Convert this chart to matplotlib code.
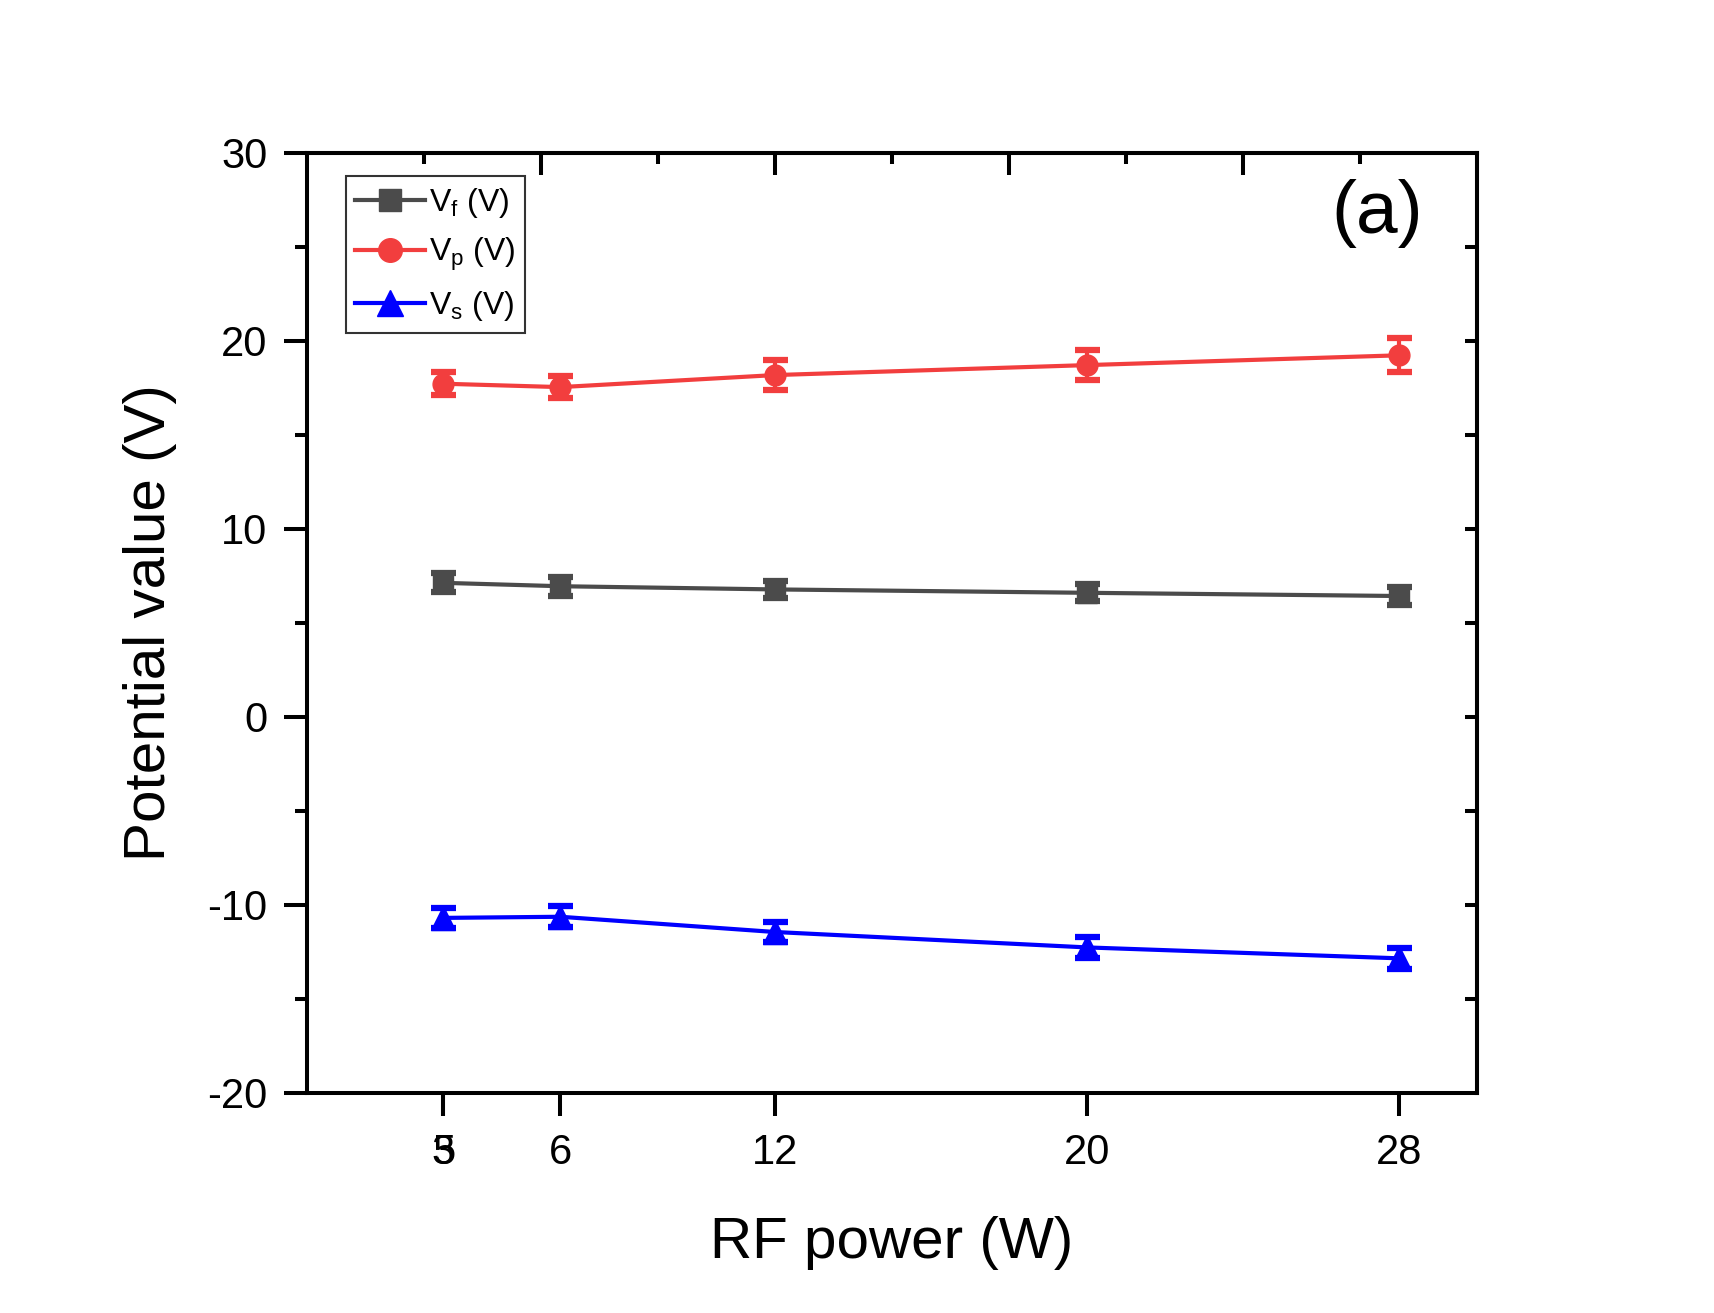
import matplotlib.pyplot as plt
from matplotlib.lines import Line2D

# %% Style
FONT = "Liberation Sans"
plt.rcParams.update(
    {
        "font.family": FONT,
        "mathtext.fontset": "custom",
        "mathtext.rm": FONT,
        "mathtext.it": FONT,
        "axes.linewidth": 2.9,
        "axes.unicode_minus": False,
    }
)

# %% Data
x_pos = [3.5, 6.5, 12, 20, 28]
x_labels = ["5", "6", "12", "20", "28"]
extra_label = "3"  # printed on top of the first tick label

vf = [7.13, 6.95, 6.78, 6.60, 6.43]
vf_err = [0.50, 0.50, 0.45, 0.45, 0.50]
vp = [17.72, 17.54, 18.18, 18.71, 19.23]
vp_err = [0.62, 0.58, 0.80, 0.80, 0.90]
vs = [-10.69, -10.63, -11.44, -12.26, -12.84]
vs_err = [0.55, 0.55, 0.55, 0.55, 0.55]

series = [
    (vf, vf_err, "V$_{\\mathrm{f}}$ (V)", "#4b4b4b", "s", 14),
    (vp, vp_err, "V$_{\\mathrm{p}}$ (V)", "#f23e3e", "o", 15),
    (vs, vs_err, "V$_{\\mathrm{s}}$ (V)", "#0000ff", "^", 17),
]

TICK_FS = 30
MAJ = 16.5
PAD = 12

# %% Plot
fig = plt.figure(figsize=(17.15, 13.13), dpi=100)
ax = fig.add_axes([0.179, 0.1676, 0.682, 0.716])

handles = []
for y, err, label, color, marker, ms in series:
    ax.errorbar(
        x_pos, y, yerr=err, color=color, marker=marker, markersize=ms,
        linewidth=3.0, elinewidth=3.0, capsize=9, capthick=4.5,
    )
    handles.append(Line2D([], [], color=color, marker=marker,
                          markersize=ms + 2, linewidth=3.0, label=label))

ax.set_xlim(0, 30)
ax.set_ylim(-20, 30)
ax.set_xticks(x_pos)
ax.set_xticklabels(x_labels)
ax.set_yticks(range(-20, 31, 10))
ax.set_yticks(range(-15, 30, 10), minor=True)
ax.tick_params(axis="both", which="major", direction="out", length=MAJ,
               width=2.9, labelsize=TICK_FS, pad=PAD)
ax.tick_params(axis="y", which="minor", direction="out", length=8.5, width=2.9)

# overlapping "3" on the first x tick label
bot = ax.secondary_xaxis("bottom")
bot.set_xticks([x_pos[0]], labels=[extra_label])
bot.spines["bottom"].set_visible(False)
bot.tick_params(direction="out", length=MAJ, width=2.9, labelsize=TICK_FS,
                pad=PAD)

# top and right mirror axes, ticks pointing in
top = ax.secondary_xaxis("top")
top.set_xticks(range(6, 30, 6))
top.set_xticks(range(3, 30, 6), minor=True)
top.tick_params(which="major", direction="in", length=16, width=2.9,
                labeltop=False)
top.tick_params(which="minor", direction="in", length=8, width=2.9)
right = ax.secondary_yaxis("right")
right.set_yticks(range(-15, 30, 5))
right.tick_params(which="major", direction="in", length=9, width=2.9,
                  labelright=False)

ax.set_xlabel("RF power (W)", fontsize=42, labelpad=31)
ax.set_ylabel("Potential value (V)", fontsize=42, labelpad=22)

ax.text(0.915, 0.936, "(a)", transform=ax.transAxes, fontsize=54,
        ha="center", va="center")

leg = ax.legend(handles=handles, loc="upper left",
                bbox_to_anchor=(0.033, 0.975), fontsize=23,
                frameon=True, fancybox=False, edgecolor="black",
                handlelength=2.2, handletextpad=0.1, borderpad=0.3,
                labelspacing=0.5, borderaxespad=0)
leg.get_frame().set_linewidth(1.5)

fig.savefig("out.png", dpi=100)
